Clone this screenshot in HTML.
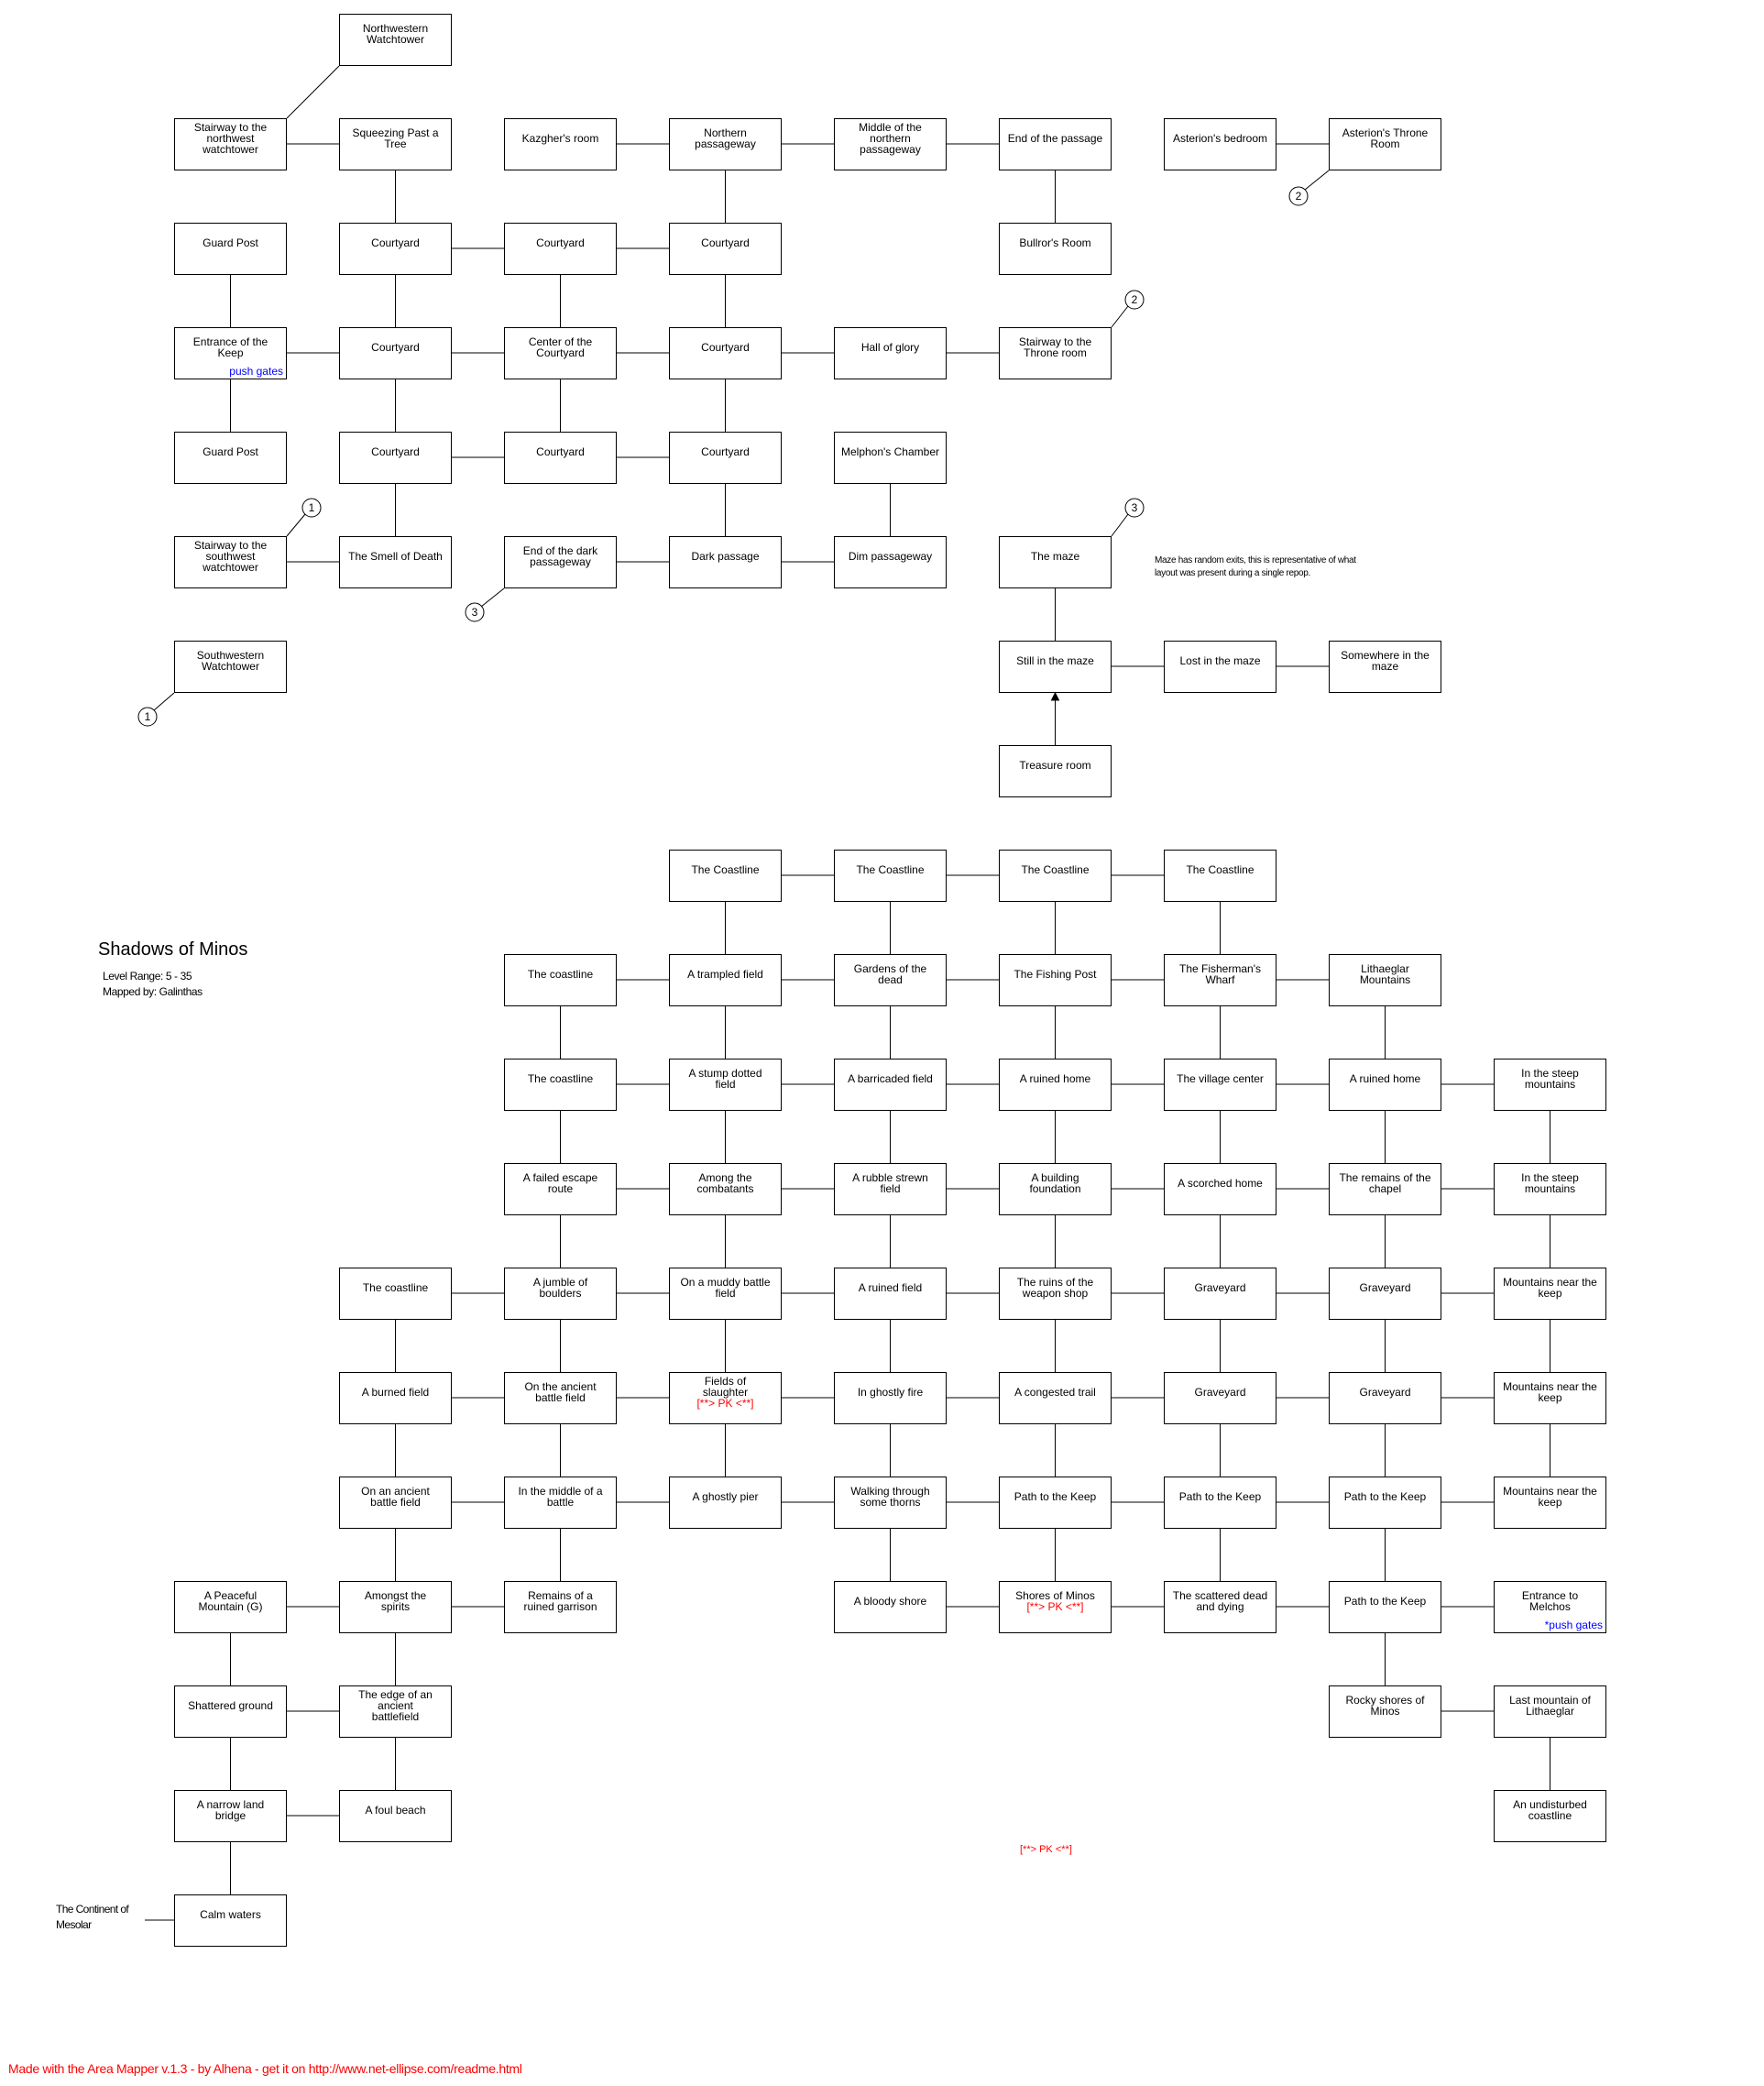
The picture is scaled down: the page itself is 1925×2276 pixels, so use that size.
<!DOCTYPE html>
<html><head><meta charset="utf-8">
<style>
html,body{margin:0;padding:0;background:#fff;}
body{width:1925px;height:2276px;position:relative;overflow:hidden;font-family:"Liberation Sans",Arial,sans-serif;color:#000;}
.b{position:absolute;width:123px;height:57px;border:1px solid #000;box-sizing:border-box;background:#fff;}
.b>div{position:absolute;left:0;right:0;top:0;height:42px;display:flex;flex-direction:column;align-items:center;justify-content:center;text-align:center;font-size:12px;line-height:12px;}
.r{color:#f00;}
.g{position:absolute;right:3px;bottom:1px;color:#00f;font-size:12px;line-height:13px;}
.tx{position:absolute;white-space:nowrap;}
svg{position:absolute;left:0;top:0;}
</style></head><body>
<svg width="1925" height="2276" stroke="#000" stroke-width="1" fill="none">
<path d="M313 157h57M673 157h57M853 157h57M1033 157h57M1393 157h57
M493 271h57M673 271h57
M313 385h57M493 385h57M673 385h57M853 385h57M1033 385h57
M493 499h57M673 499h57
M313 613h57M673 613h57M853 613h57
M1213 727h57M1393 727h57
M853 955h57M1033 955h57M1213 955h57
M673 1069h57M853 1069h57M1033 1069h57M1213 1069h57M1393 1069h57
M673 1183h57M853 1183h57M1033 1183h57M1213 1183h57M1393 1183h57M1573 1183h57
M673 1297h57M853 1297h57M1033 1297h57M1213 1297h57M1393 1297h57M1573 1297h57
M493 1411h57M673 1411h57M853 1411h57M1033 1411h57M1213 1411h57M1393 1411h57M1573 1411h57
M493 1525h57M673 1525h57M853 1525h57M1033 1525h57M1213 1525h57M1393 1525h57M1573 1525h57
M493 1639h57M673 1639h57M853 1639h57M1033 1639h57M1213 1639h57M1393 1639h57M1573 1639h57
M313 1753h57M493 1753h57M1033 1753h57M1213 1753h57M1393 1753h57M1573 1753h57
M313 1867h57M1573 1867h57
M313 1981h57
M158 2095H190
M431.5 186v57M791.5 186v57M1151.5 186v57
M251.5 300v57M431.5 300v57M611.5 300v57M791.5 300v57
M251.5 414v57M431.5 414v57M611.5 414v57M791.5 414v57
M431.5 528v57M791.5 528v57M971.5 528v57
M1151.5 642v57
M1151.5 760v53
M791.5 984v57M971.5 984v57M1151.5 984v57M1331.5 984v57
M611.5 1098v57M791.5 1098v57M971.5 1098v57M1151.5 1098v57M1331.5 1098v57M1511.5 1098v57
M611.5 1212v57M791.5 1212v57M971.5 1212v57M1151.5 1212v57M1331.5 1212v57M1511.5 1212v57M1691.5 1212v57
M611.5 1326v57M791.5 1326v57M971.5 1326v57M1151.5 1326v57M1331.5 1326v57M1511.5 1326v57M1691.5 1326v57
M431.5 1440v57M611.5 1440v57M791.5 1440v57M971.5 1440v57M1151.5 1440v57M1331.5 1440v57M1511.5 1440v57M1691.5 1440v57
M431.5 1554v57M611.5 1554v57M791.5 1554v57M971.5 1554v57M1151.5 1554v57M1331.5 1554v57M1511.5 1554v57M1691.5 1554v57
M431.5 1668v57M611.5 1668v57M971.5 1668v57M1151.5 1668v57M1331.5 1668v57M1511.5 1668v57
M251.5 1782v57M431.5 1782v57M1511.5 1782v57
M251.5 1896v57M431.5 1896v57M1691.5 1896v57
M251.5 2010v57
M313 129L370 72
M1450 186L1424 207
M1213 357L1231 334
M313 585L333 561
M550 642L525 662
M1213 585L1231 561
M190 756L168 775"/>
<path d="M1151.5 756l-4 8h8z" fill="#000"/>
<g>
<circle cx="1417" cy="214" r="10"/><circle cx="1238" cy="327" r="10"/>
<circle cx="340" cy="554" r="10"/><circle cx="518" cy="668" r="10"/>
<circle cx="1238" cy="554" r="10"/><circle cx="161" cy="782" r="10"/>
</g>
<g fill="#000" stroke="none" font-family="Liberation Sans, Arial, sans-serif" font-size="12" text-anchor="middle">
<text x="1417" y="218">2</text><text x="1238" y="331">2</text>
<text x="340" y="558">1</text><text x="518" y="672">3</text>
<text x="1238" y="558">3</text><text x="161" y="786">1</text>
</g>
</svg>

<div class="b" style="left:370px;top:15px"><div>Northwestern<br>Watchtower</div></div>
<div class="b" style="left:190px;top:129px"><div>Stairway to the<br>northwest<br>watchtower</div></div>
<div class="b" style="left:370px;top:129px"><div>Squeezing Past a<br>Tree</div></div>
<div class="b" style="left:550px;top:129px"><div>Kazgher's room</div></div>
<div class="b" style="left:730px;top:129px"><div>Northern<br>passageway</div></div>
<div class="b" style="left:910px;top:129px"><div>Middle of the<br>northern<br>passageway</div></div>
<div class="b" style="left:1090px;top:129px"><div>End of the passage</div></div>
<div class="b" style="left:1270px;top:129px"><div>Asterion's bedroom</div></div>
<div class="b" style="left:1450px;top:129px"><div>Asterion's Throne<br>Room</div></div>

<div class="b" style="left:190px;top:243px"><div>Guard Post</div></div>
<div class="b" style="left:370px;top:243px"><div>Courtyard</div></div>
<div class="b" style="left:550px;top:243px"><div>Courtyard</div></div>
<div class="b" style="left:730px;top:243px"><div>Courtyard</div></div>
<div class="b" style="left:1090px;top:243px"><div>Bullror's Room</div></div>

<div class="b" style="left:190px;top:357px"><div>Entrance of the<br>Keep</div><span class="g">push gates</span></div>
<div class="b" style="left:370px;top:357px"><div>Courtyard</div></div>
<div class="b" style="left:550px;top:357px"><div>Center of the<br>Courtyard</div></div>
<div class="b" style="left:730px;top:357px"><div>Courtyard</div></div>
<div class="b" style="left:910px;top:357px"><div>Hall of glory</div></div>
<div class="b" style="left:1090px;top:357px"><div>Stairway to the<br>Throne room</div></div>

<div class="b" style="left:190px;top:471px"><div>Guard Post</div></div>
<div class="b" style="left:370px;top:471px"><div>Courtyard</div></div>
<div class="b" style="left:550px;top:471px"><div>Courtyard</div></div>
<div class="b" style="left:730px;top:471px"><div>Courtyard</div></div>
<div class="b" style="left:910px;top:471px"><div>Melphon's Chamber</div></div>

<div class="b" style="left:190px;top:585px"><div>Stairway to the<br>southwest<br>watchtower</div></div>
<div class="b" style="left:370px;top:585px"><div>The Smell of Death</div></div>
<div class="b" style="left:550px;top:585px"><div>End of the dark<br>passageway</div></div>
<div class="b" style="left:730px;top:585px"><div>Dark passage</div></div>
<div class="b" style="left:910px;top:585px"><div>Dim passageway</div></div>
<div class="b" style="left:1090px;top:585px"><div>The maze</div></div>

<div class="b" style="left:190px;top:699px"><div>Southwestern<br>Watchtower</div></div>
<div class="b" style="left:1090px;top:699px"><div>Still in the maze</div></div>
<div class="b" style="left:1270px;top:699px"><div>Lost in the maze</div></div>
<div class="b" style="left:1450px;top:699px"><div>Somewhere in the<br>maze</div></div>
<div class="b" style="left:1090px;top:813px"><div>Treasure room</div></div>

<div class="tx" style="left:1260px;top:605px;font-size:10px;line-height:14px;letter-spacing:-0.3px">Maze has random exits, this is representative of what<br>layout was present during a single repop.</div>

<div class="tx" style="left:107px;top:1023px;font-size:20px;line-height:26px">Shadows of Minos</div>
<div class="tx" style="left:112px;top:1057px;font-size:12px;line-height:17px;letter-spacing:-0.4px">Level Range: 5 - 35<br>Mapped by: Galinthas</div>

<div class="b" style="left:730px;top:927px"><div>The Coastline</div></div>
<div class="b" style="left:910px;top:927px"><div>The Coastline</div></div>
<div class="b" style="left:1090px;top:927px"><div>The Coastline</div></div>
<div class="b" style="left:1270px;top:927px"><div>The Coastline</div></div>

<div class="b" style="left:550px;top:1041px"><div>The coastline</div></div>
<div class="b" style="left:730px;top:1041px"><div>A trampled field</div></div>
<div class="b" style="left:910px;top:1041px"><div>Gardens of the<br>dead</div></div>
<div class="b" style="left:1090px;top:1041px"><div>The Fishing Post</div></div>
<div class="b" style="left:1270px;top:1041px"><div>The Fisherman's<br>Wharf</div></div>
<div class="b" style="left:1450px;top:1041px"><div>Lithaeglar<br>Mountains</div></div>

<div class="b" style="left:550px;top:1155px"><div>The coastline</div></div>
<div class="b" style="left:730px;top:1155px"><div>A stump dotted<br>field</div></div>
<div class="b" style="left:910px;top:1155px"><div>A barricaded field</div></div>
<div class="b" style="left:1090px;top:1155px"><div>A ruined home</div></div>
<div class="b" style="left:1270px;top:1155px"><div>The village center</div></div>
<div class="b" style="left:1450px;top:1155px"><div>A ruined home</div></div>
<div class="b" style="left:1630px;top:1155px"><div>In the steep<br>mountains</div></div>

<div class="b" style="left:550px;top:1269px"><div>A failed escape<br>route</div></div>
<div class="b" style="left:730px;top:1269px"><div>Among the<br>combatants</div></div>
<div class="b" style="left:910px;top:1269px"><div>A rubble strewn<br>field</div></div>
<div class="b" style="left:1090px;top:1269px"><div>A building<br>foundation</div></div>
<div class="b" style="left:1270px;top:1269px"><div>A scorched home</div></div>
<div class="b" style="left:1450px;top:1269px"><div>The remains of the<br>chapel</div></div>
<div class="b" style="left:1630px;top:1269px"><div>In the steep<br>mountains</div></div>

<div class="b" style="left:370px;top:1383px"><div>The coastline</div></div>
<div class="b" style="left:550px;top:1383px"><div>A jumble of<br>boulders</div></div>
<div class="b" style="left:730px;top:1383px"><div>On a muddy battle<br>field</div></div>
<div class="b" style="left:910px;top:1383px"><div>A ruined field</div></div>
<div class="b" style="left:1090px;top:1383px"><div>The ruins of the<br>weapon shop</div></div>
<div class="b" style="left:1270px;top:1383px"><div>Graveyard</div></div>
<div class="b" style="left:1450px;top:1383px"><div>Graveyard</div></div>
<div class="b" style="left:1630px;top:1383px"><div>Mountains near the<br>keep</div></div>

<div class="b" style="left:370px;top:1497px"><div>A burned field</div></div>
<div class="b" style="left:550px;top:1497px"><div>On the ancient<br>battle field</div></div>
<div class="b" style="left:730px;top:1497px"><div>Fields of<br>slaughter<br><span class="r">[**&gt; PK &lt;**]</span></div></div>
<div class="b" style="left:910px;top:1497px"><div>In ghostly fire</div></div>
<div class="b" style="left:1090px;top:1497px"><div>A congested trail</div></div>
<div class="b" style="left:1270px;top:1497px"><div>Graveyard</div></div>
<div class="b" style="left:1450px;top:1497px"><div>Graveyard</div></div>
<div class="b" style="left:1630px;top:1497px"><div>Mountains near the<br>keep</div></div>

<div class="b" style="left:370px;top:1611px"><div>On an ancient<br>battle field</div></div>
<div class="b" style="left:550px;top:1611px"><div>In the middle of a<br>battle</div></div>
<div class="b" style="left:730px;top:1611px"><div>A ghostly pier</div></div>
<div class="b" style="left:910px;top:1611px"><div>Walking through<br>some thorns</div></div>
<div class="b" style="left:1090px;top:1611px"><div>Path to the Keep</div></div>
<div class="b" style="left:1270px;top:1611px"><div>Path to the Keep</div></div>
<div class="b" style="left:1450px;top:1611px"><div>Path to the Keep</div></div>
<div class="b" style="left:1630px;top:1611px"><div>Mountains near the<br>keep</div></div>

<div class="b" style="left:190px;top:1725px"><div>A Peaceful<br>Mountain (G)</div></div>
<div class="b" style="left:370px;top:1725px"><div>Amongst the<br>spirits</div></div>
<div class="b" style="left:550px;top:1725px"><div>Remains of a<br>ruined garrison</div></div>
<div class="b" style="left:910px;top:1725px"><div>A bloody shore</div></div>
<div class="b" style="left:1090px;top:1725px"><div>Shores of Minos<br><span class="r">[**&gt; PK &lt;**]</span></div></div>
<div class="b" style="left:1270px;top:1725px"><div>The scattered dead<br>and dying</div></div>
<div class="b" style="left:1450px;top:1725px"><div>Path to the Keep</div></div>
<div class="b" style="left:1630px;top:1725px"><div>Entrance to<br>Melchos</div><span class="g">*push gates</span></div>

<div class="b" style="left:190px;top:1839px"><div>Shattered ground</div></div>
<div class="b" style="left:370px;top:1839px"><div>The edge of an<br>ancient<br>battlefield</div></div>
<div class="b" style="left:1450px;top:1839px"><div>Rocky shores of<br>Minos</div></div>
<div class="b" style="left:1630px;top:1839px"><div>Last mountain of<br>Lithaeglar</div></div>

<div class="b" style="left:190px;top:1953px"><div>A narrow land<br>bridge</div></div>
<div class="b" style="left:370px;top:1953px"><div>A foul beach</div></div>
<div class="b" style="left:1630px;top:1953px"><div>An undisturbed<br>coastline</div></div>

<div class="b" style="left:190px;top:2067px"><div>Calm waters</div></div>
<div class="tx" style="left:61px;top:2075px;font-size:12px;line-height:17px;letter-spacing:-0.6px">The Continent of<br>Mesolar</div>

<div class="tx r" style="left:1113px;top:2012px;font-size:11px;line-height:13px">[**&gt; PK &lt;**]</div>
<div class="tx r" style="left:9px;top:2249px;font-size:14px;line-height:17px;letter-spacing:-0.3px">Made with the Area Mapper v.1.3 - by Alhena - get it on http://www.net-ellipse.com/readme.html</div>
</body></html>
